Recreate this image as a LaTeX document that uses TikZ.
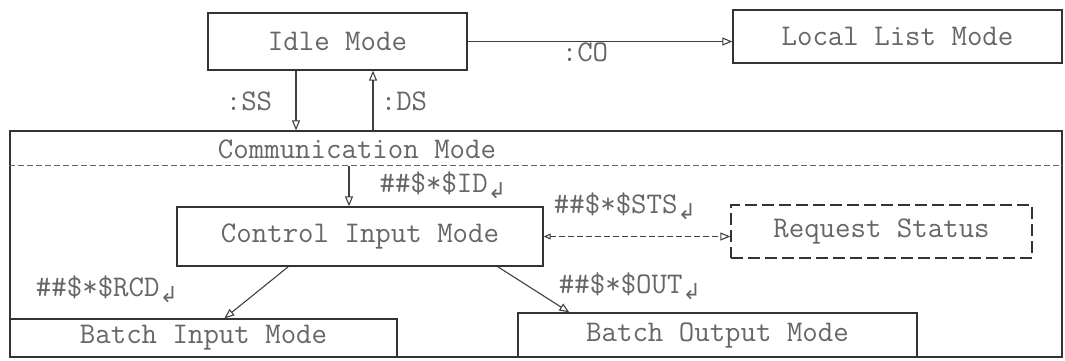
\documentclass[tikz,border=0pt]{standalone}
\usepackage{fontspec}
\newfontfamily\dejavu{DejaVu Sans}
\usetikzlibrary{arrows.meta,calc}
\newcommand\retsym{\raisebox{-0.5ex}{\dejavu\fontsize{22}{22}\selectfont ↲}}
\begin{document}
\begin{tikzpicture}[x=1pt,y=-1pt,
  box/.style={draw=black!80, line width=1.3pt, rectangle, inner sep=0pt,
    font=\fontsize{30}{36}\selectfont\ttfamily, text=black!60},
  lbl/.style={inner sep=0pt, font=\fontsize{30}{36}\selectfont\ttfamily, text=black!60},
  arr/.style={draw=black!75, line width=1.1pt, -{Triangle[open,length=10pt,width=8pt]}},
  sepline/.style={draw=black!60, line width=1.1pt, dashed, dash pattern=on 6pt off 3pt},
]
\useasboundingbox (0,0) rectangle (1065,360);

% outer communication box
\node[box, minimum width=1052pt, minimum height=226pt] (comm) at (536,244) {};
\node[lbl] (commt) at (357,149) {Communication Mode};
\draw[sepline] ([yshift=-35pt]comm.north west) -- ([yshift=-35pt]comm.north east);

% boxes
\node[box, minimum width=259pt, minimum height=57pt] (idle) at (337.5,41.5) {Idle Mode};
\node[box, minimum width=329pt, minimum height=53pt] (local) at (897.5,36.5) {Local List Mode};
\node[box, minimum width=366pt, minimum height=59pt] (ctrl) at (360,236.5) {Control Input Mode};
\node[box, dashed, dash pattern=on 12pt off 5pt, minimum width=301pt, minimum height=53pt] (rs) at (881.5,231.5) {Request Status};
\node[box, minimum width=387pt, minimum height=38pt] (bin) at (203.5,338) {Batch Input Mode};
\node[box, minimum width=399pt, minimum height=44pt] (bout) at (717.5,335) {Batch Output Mode};

% connectors
\draw[arr] (idle.east) -- (idle.east -| local.west);
\draw[arr] ([xshift=-41.5pt]idle.south) -- ([xshift=-41.5pt]idle.south |- comm.north);
\draw[arr] ([xshift=35.5pt]idle.south |- comm.north) -- ([xshift=35.5pt]idle.south);
\coordinate (idtop) at (349,166);
\draw[arr] (idtop) -- (idtop |- ctrl.north);
\draw[arr, dashed, dash pattern=on 6pt off 3pt, {Triangle[open,length=7pt,width=6pt]}-{Triangle[open,length=10pt,width=8pt]}] (ctrl.east) -- (ctrl.east -| rs.west);
\draw[arr] ([xshift=112pt]ctrl.south west) -- ([xshift=215pt]bin.north west);
\draw[arr] ([xshift=-46pt]ctrl.south east) -- ([xshift=52pt]bout.north west);

% labels
\node[lbl] (lco) at (585,52) {:CO};
\node[lbl] (lss) at (249,101) {:SS};
\node[lbl] (lds) at (404,101) {:DS};
\node[lbl] (lid) at (443,185) {\#\#\$*\$ID\retsym};
\node[lbl] (lsts) at (625,206) {\#\#\$*\$STS\retsym};
\node[lbl] (lrcd) at (107,289) {\#\#\$*\$RCD\retsym};
\node[lbl] (lout) at (630,286) {\#\#\$*\$OUT\retsym};
\end{tikzpicture}
\end{document}
